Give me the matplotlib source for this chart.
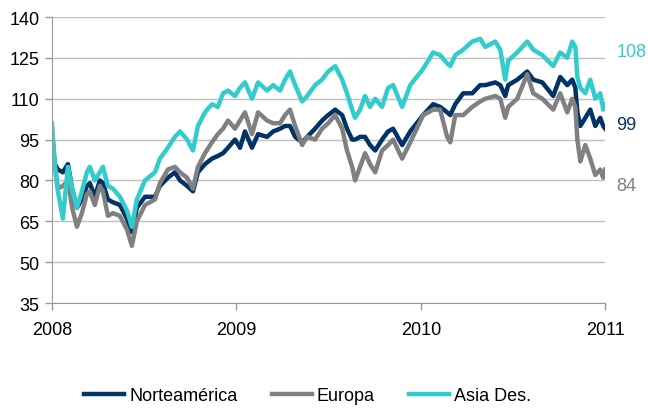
import numpy as np
import matplotlib
matplotlib.use('Agg')
import matplotlib.pyplot as plt

plt.rcParams['font.family'] = ['Liberation Sans', 'DejaVu Sans']

# fractional years
t = [2008.00, 2008.016, 2008.033, 2008.06, 2008.087, 2008.11, 2008.136, 2008.163,
     2008.19, 2008.206, 2008.233, 2008.26, 2008.277, 2008.304, 2008.331, 2008.369,
     2008.407, 2008.434, 2008.461, 2008.505, 2008.559, 2008.586, 2008.629, 2008.667,
     2008.695, 2008.733, 2008.765, 2008.792, 2008.83, 2008.868, 2008.90, 2008.928,
     2008.955, 2008.993, 2009.02, 2009.047, 2009.085, 2009.118, 2009.167, 2009.20,
     2009.237, 2009.264, 2009.291, 2009.319, 2009.357, 2009.384, 2009.427, 2009.465,
     2009.498, 2009.536, 2009.574, 2009.60, 2009.628, 2009.644, 2009.671, 2009.698,
     2009.725, 2009.753, 2009.79, 2009.823, 2009.85, 2009.899, 2009.943, 2010.013,
     2010.067, 2010.105, 2010.143, 2010.16, 2010.187, 2010.23, 2010.279, 2010.322,
     2010.35, 2010.404, 2010.431, 2010.458, 2010.474, 2010.523, 2010.577, 2010.61,
     2010.659, 2010.718, 2010.756, 2010.794, 2010.821, 2010.838, 2010.849, 2010.865,
     2010.892, 2010.919, 2010.946, 2010.973, 2010.989, 2011.00]

norteamerica = [95, 86, 84, 83, 86, 77, 70, 73, 78, 79, 74, 80, 79, 73, 72, 71,
                66, 61, 70, 74, 74, 78, 81, 83, 80, 78, 76, 83, 86, 88, 89, 90,
                92, 95, 92, 98, 92, 97, 96, 98, 99, 100, 100, 96, 94, 96, 99, 102,
                104, 106, 104, 99, 95, 95, 96, 96, 93, 91, 95, 98, 99, 93, 98, 104,
                108, 107, 105, 104, 108, 112, 112, 115, 115, 116, 115, 111, 115, 117, 120, 117,
                116, 111, 118, 115, 117, 114, 105, 100, 103, 106, 100, 103, 100, 99]

europa = [100, 86, 77, 78, 80, 70, 63, 68, 75, 76, 71, 78, 76, 67, 68, 67,
          62, 56, 65, 71, 73, 79, 84, 85, 83, 81, 77, 85, 90, 94, 97, 99,
          102, 99, 102, 105, 97, 105, 102, 101, 101, 104, 106, 100, 93, 96, 95, 99,
          101, 104, 99, 91, 85, 80, 85, 90, 86, 83, 91, 93, 95, 88, 94, 104,
          106, 106, 96, 94, 104, 104, 107, 109, 110, 111, 110, 103, 107, 110, 119, 112,
          110, 106, 112, 105, 110, 107, 95, 87, 93, 88, 82, 84, 81, 84]

asia = [101, 85, 76, 66, 85, 77, 70, 76, 83, 85, 80, 83, 85, 78, 77, 74,
        69, 63, 73, 80, 83, 88, 92, 96, 98, 95, 91, 100, 105, 108, 107, 112,
        113, 111, 114, 116, 110, 116, 113, 115, 113, 117, 120, 115, 109, 111, 115, 117,
        120, 122, 117, 112, 106, 103, 106, 111, 107, 110, 107, 114, 115, 107, 115, 121,
        127, 126, 123, 122, 126, 128, 131, 132, 129, 131, 128, 117, 124, 127, 131, 128,
        126, 122, 127, 125, 131, 129, 118, 114, 112, 117, 110, 112, 106, 108]

series_names = ['Norteamérica', 'Europa', 'Asia Des.']
end_labels = ['99', '84', '108']
colors = ['#003366', '#808080', '#33CCCC']
label_y = [100.7, 78.3, 127.2]

fig = plt.figure(figsize=(6.48, 4.10), dpi=100)
ax = fig.add_axes([0.080, 0.2585, 0.854, 0.6975])

for vals, name, c in zip([norteamerica, europa, asia], series_names, colors):
    ax.plot(t, vals, color=c, lw=3.2, label=name, solid_joinstyle='round')

# end values next to the lines
for txt, yv, c in zip(end_labels, label_y, colors):
    ax.text(2011.06, yv, txt, color=c, fontsize=13, va='center', ha='left',
            clip_on=False)

ax.set_xlim(2008, 2011)
ax.set_ylim(35, 140)
ax.set_xticks([2008, 2009, 2010, 2011])
ax.set_xticklabels(['2008', '2009', '2010', '2011'])
ax.set_yticks(np.arange(35, 141, 15))
ax.yaxis.grid(True, color='#c0c0c0', lw=1)
ax.set_axisbelow(True)

for s in ['top', 'right']:
    ax.spines[s].set_visible(False)
for s in ['left', 'bottom']:
    ax.spines[s].set_color('#999999')
ax.tick_params(axis='both', colors='#999999', labelcolor='black', labelsize=13,
               length=5, width=1)
ax.tick_params(axis='x', pad=8)
ax.tick_params(axis='y', pad=4)

fig.legend(loc='center', bbox_to_anchor=(0.475, 0.032), ncol=3, frameon=False,
           fontsize=13, handlelength=2.2, handletextpad=0.3, columnspacing=1.9)

fig.savefig('out.png', dpi=100)
